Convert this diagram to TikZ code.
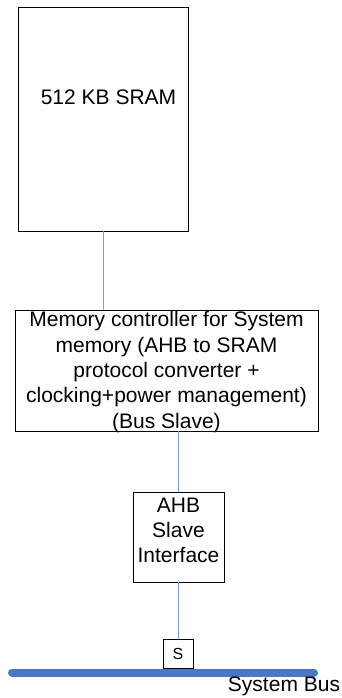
\documentclass[tikz,border=0pt]{standalone}
\usepackage{fontspec}
\setmainfont{Liberation Sans}
\definecolor{conn}{HTML}{7A9CD6}
\definecolor{busblue}{HTML}{4A78C2}
\begin{document}
\begin{tikzpicture}[x=1pt,y=-1pt,
  box/.style={draw=black,line width=0.8pt,inner sep=0pt,rectangle},
  lbl/.style={inner sep=0pt,align=center,font=\fontsize{21}{25.3}\selectfont},
  conn/.style={draw=conn,line width=1pt}]
\useasboundingbox (0,0) rectangle (342,698);
% boxes
\node[box,minimum width=170pt,minimum height=224pt] (sram) at (103,119) {};
\node[lbl] (sramt) at (108.5,97.5) {512 KB SRAM};
\node[box,minimum width=303pt,minimum height=121pt] (mc) at (166.5,370.5) {};
\node[lbl] (mct) at (166.5,372) {Memory controller for System\\memory (AHB to SRAM\\protocol converter +\\clocking+power management)\\(Bus Slave)};
\node[box,minimum width=91pt,minimum height=90pt] (ahb) at (178.5,537) {};
\node[lbl] (ahbt) at (178.5,530.5) {AHB\\Slave\\Interface};
\node[box,minimum width=30pt,minimum height=29pt,font=\fontsize{16}{18}\selectfont] (s) at (178,653.5) {S};
% bus
\coordinate (busl) at (8,672.5);
\coordinate (busr) at (318,672.5);
\draw[busblue,line width=8pt,line cap=round] ([xshift=4pt]busl) -- ([xshift=-4pt]busr);
\node[lbl] (bust) at (284,686) {System Bus};
% connectors
\draw[conn] (sram.south) -- (sram.south |- mc.north);
\draw[conn] (mc.south -| ahb.north) -- (ahb.north);
\draw[conn] (ahb.south) -- (ahb.south |- s.north);
\end{tikzpicture}
\end{document}
